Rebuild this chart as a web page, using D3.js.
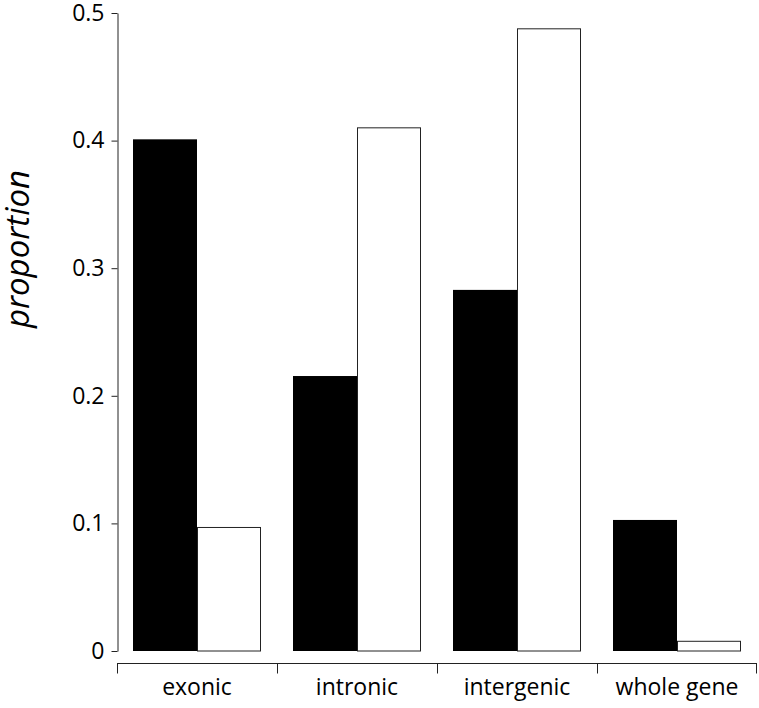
<!DOCTYPE html>
<html><head><meta charset="utf-8">
<script src="https://cdn.jsdelivr.net/npm/d3@7"></script>
<style>body{margin:0;background:#fff}svg{display:block}</style>
</head><body><svg id="c" width="759" height="708"></svg>
<script>
const categories = ["exonic","intronic","intergenic","whole gene"];
const seriesBlack = [0.401, 0.2155, 0.283, 0.1027];
const seriesWhite = [0.0972, 0.4104, 0.488, 0.008];
const yTicks = [0, 0.1, 0.2, 0.3, 0.4, 0.5];
const yLabel = "proportion";

const svg = d3.select("#c");
const font = "'Open Sans', Lato, sans-serif";
const x = d3.scaleBand().domain(categories).range([117, 757]).paddingInner(0).paddingOuter(0);
const y = d3.scaleLinear().domain([0, 0.5]).range([651, 13]);
const inner = d3.scaleBand().domain(["b","w"]).range([0, x.bandwidth()]).paddingOuter(0.25).paddingInner(0);

const data = categories.map((c,i)=>({c, b: seriesBlack[i], w: seriesWhite[i]}));
const g = svg.append("g");
data.forEach(d=>{
  g.append("rect").attr("x", x(d.c)+inner("b")).attr("width", inner.bandwidth())
    .attr("y", y(d.b)).attr("height", y(0)-y(d.b)).attr("fill","#000");
  g.append("rect").attr("x", x(d.c)+inner("w")+0.5).attr("width", inner.bandwidth()-1)
    .attr("y", y(d.w)+0.5).attr("height", y(0)-y(d.w)-0.5).attr("fill","#fff").attr("stroke","#222").attr("stroke-width",1);
});

// y axis
const ya = svg.append("g").attr("transform","translate(117.5,0)")
  .call(d3.axisLeft(y).tickValues(yTicks).tickSize(6).tickSizeOuter(0).tickPadding(7)
    .tickFormat(d=> d===0 ? "0" : d.toFixed(1)));
ya.selectAll("text").attr("font-family",font).attr("font-size",23).attr("fill","#000");
ya.selectAll("line,path").attr("stroke","#222");

// x axis
const xa = svg.append("g").attr("transform","translate(0,663.5)")
  .call(d3.axisBottom(x).tickSize(0).tickPadding(15));
xa.selectAll("text").attr("font-family",font).attr("font-size",23).attr("fill","#000");
xa.select("path").remove();
xa.append("line").attr("x1",x.range()[0]).attr("x2",x.range()[1]).attr("stroke","#222");
const bounds = categories.map(c=>x(c)).concat([x.range()[1]]);
xa.selectAll("line.bd").data(bounds).enter().append("line").attr("class","bd")
  .attr("x1",d=>Math.min(Math.round(d)+0.5, 756.5)).attr("x2",d=>Math.min(Math.round(d)+0.5, 756.5)).attr("y1",0).attr("y2",10).attr("stroke","#222");

svg.append("text").attr("transform","translate(29,249) rotate(-90)")
  .attr("text-anchor","middle").attr("font-family",font).attr("font-style","italic")
  .attr("font-size",33).attr("fill","#000").text(yLabel);
</script></body></html>
